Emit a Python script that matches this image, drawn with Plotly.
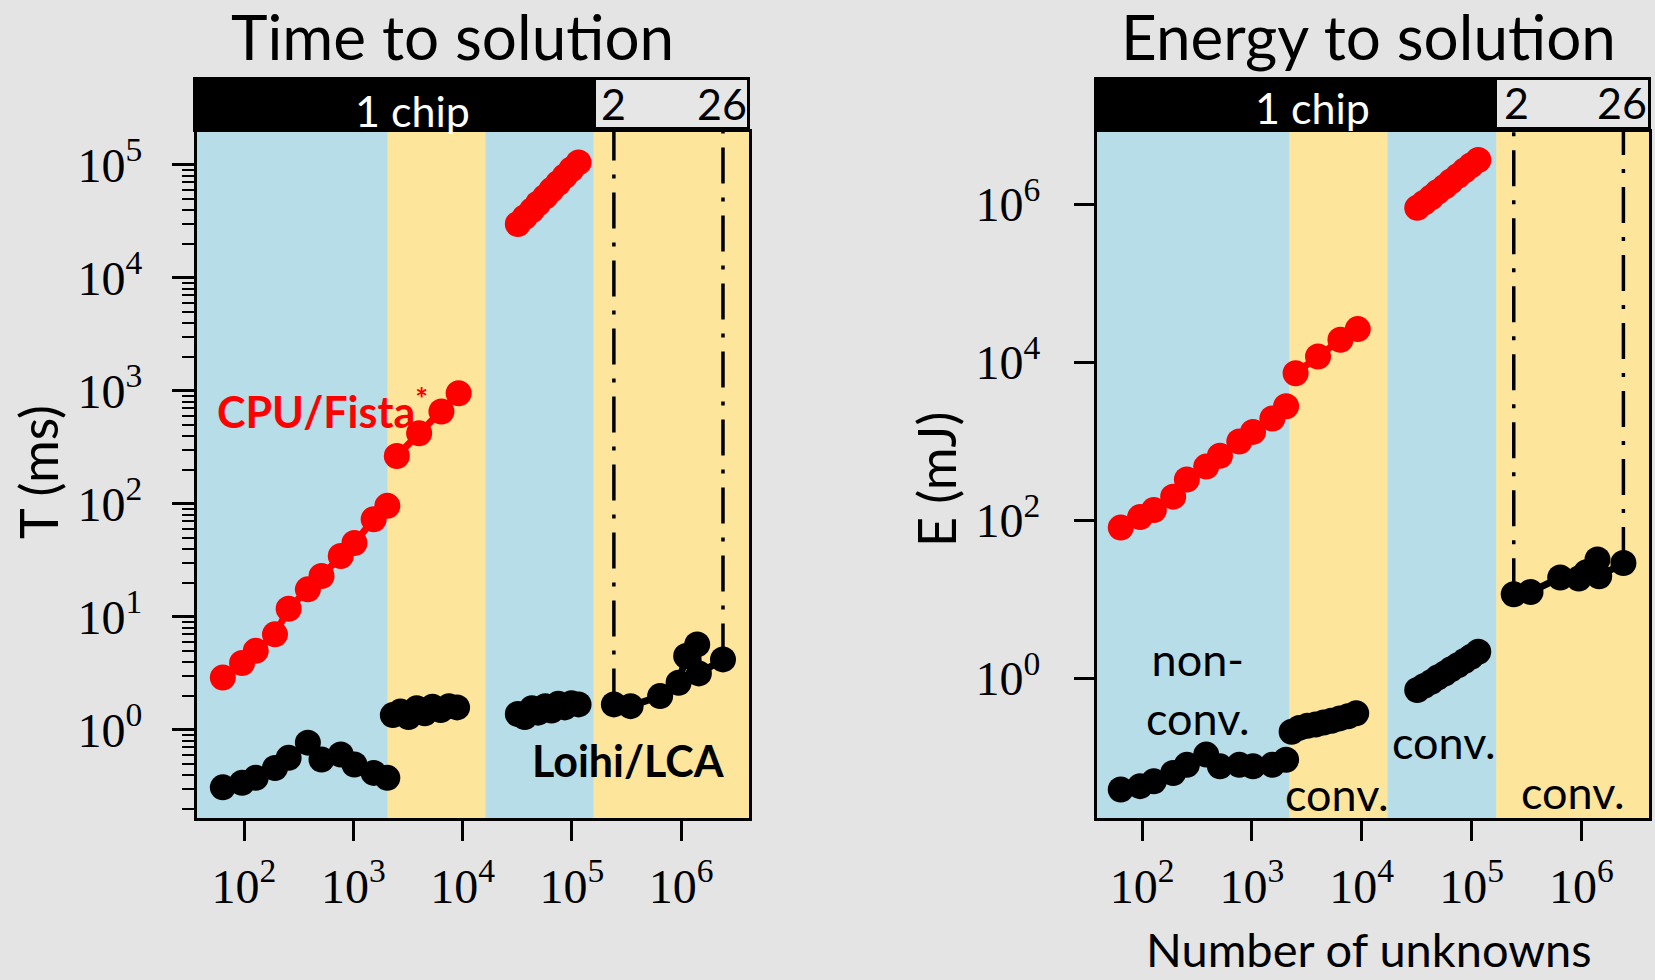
import math
import plotly.graph_objects as go

W, H = 1655, 980

# ---- data: number of unknowns per problem group ----
n_small = [64, 96, 128, 192, 256, 384, 512, 768, 1024, 1536, 2048]
n_conv_cpu = [2500, 4000, 6400, 9200]
n_conv_loihi = [2300, 2700, 3200, 3800, 4500, 5300, 6300, 7500, 8900]
n_large = [32000, 37000, 43000, 49000, 57000, 65000, 75000, 86000, 99000, 115000]
n_multi = [242000, 344000, 641000, 946000, 1110000, 1400000, 1450000, 2410000]

# time to solution (ms)
t_cpu_small = [2.9, 3.9, 5.0, 7.0, 11.8, 17.5, 23, 34.5, 45, 73, 96]
t_cpu_conv = [265, 421, 656, 951]
t_cpu_large = [29900, 34400, 39500, 45400, 52200, 60000, 69000, 79300, 91200, 105000]
t_loihi_small = [0.31, 0.34, 0.376, 0.46, 0.565, 0.77, 0.546, 0.605, 0.493, 0.416, 0.376]
t_loihi_conv = [1.35, 1.45, 1.30, 1.55, 1.40, 1.60, 1.50, 1.62, 1.58]
t_loihi_large = [1.38, 1.30, 1.55, 1.42, 1.62, 1.48, 1.70, 1.58, 1.72, 1.68]
t_loihi_multi = [1.68, 1.62, 1.99, 2.61, 4.5, 5.7, 3.16, 4.2]

# energy to solution (mJ)
e_cpu_small = [81, 110, 135, 200, 330, 480, 660, 1000, 1320, 1950, 2790]
e_cpu_conv = [7310, 11900, 19400, 26500]
e_cpu_large = [910000, 1060000, 1240000, 1450000, 1690000, 1980000, 2310000, 2700000, 3150000, 3670000]
e_loihi_small = [0.039, 0.043, 0.0495, 0.063, 0.080, 0.108, 0.0766, 0.080, 0.0766, 0.080, 0.093]
e_loihi_conv = [0.21, 0.235, 0.25, 0.26, 0.275, 0.29, 0.31, 0.33, 0.36]
e_loihi_large = [0.71, 0.80, 0.90, 1.02, 1.15, 1.30, 1.46, 1.65, 1.87, 2.17]
e_loihi_multi = [11.6, 12.4, 18.9, 18.3, 22, 31.9, 19.6, 28.9]

# background band edges (number of unknowns)
band_edges_t = [10**1.57, 2060, 16200, 158000, 10**6.62]
band_edges_e = [10**1.59, 2200, 17200, 168000, 10**6.615]
band_colors = ["#b7dde8", "#fde59b", "#b7dde8", "#fde59b"]

x_range_t = [1.57, 6.62]
y_range_t = [-0.78, 5.29]
x_range_e = [1.59, 6.615]
y_range_e = [-1.77, 6.92]

RED = "#ff0000"
BLACK = "#000000"
SANS = "Lato"
SERIF = "Liberation Serif"

fig = go.Figure()


def add_bands(edges, yr, xa, ya):
    ylo, yhi = 10 ** yr[0], 10 ** yr[1]
    for i, c in enumerate(band_colors):
        x0, x1 = edges[i], edges[i + 1]
        fig.add_trace(go.Scatter(
            x=[x0, x1, x1, x0, x0], y=[ylo, ylo, yhi, yhi, ylo],
            fill="toself", fillcolor=c, mode="lines", line=dict(width=0, color=c),
            hoverinfo="skip", showlegend=False, xaxis=xa, yaxis=ya))


def add_vline(xv, ybottom, yr, xa, ya):
    fig.add_trace(go.Scatter(
        x=[xv, xv], y=[ybottom, 10 ** yr[1]], mode="lines",
        line=dict(color=BLACK, width=3.5, dash="36px,14px,4px,14px"),
        hoverinfo="skip", showlegend=False, xaxis=xa, yaxis=ya))


def add_series(xs, ys, color, xa, ya):
    fig.add_trace(go.Scatter(
        x=xs, y=ys, mode="lines+markers",
        line=dict(color=color, width=7),
        marker=dict(color=color, size=26, line=dict(width=0)),
        showlegend=False, xaxis=xa, yaxis=ya))


# left panel: time
add_bands(band_edges_t, y_range_t, "x", "y")
add_vline(n_multi[0], t_loihi_multi[0], y_range_t, "x", "y")
add_vline(n_multi[-1], t_loihi_multi[-1], y_range_t, "x", "y")
for xs, ys in [(n_small, t_cpu_small), (n_conv_cpu, t_cpu_conv), (n_large, t_cpu_large)]:
    add_series(xs, ys, RED, "x", "y")
for xs, ys in [(n_small, t_loihi_small), (n_conv_loihi, t_loihi_conv),
               (n_large, t_loihi_large), (n_multi, t_loihi_multi)]:
    add_series(xs, ys, BLACK, "x", "y")

# right panel: energy
add_bands(band_edges_e, y_range_e, "x2", "y2")
add_vline(n_multi[0], e_loihi_multi[0], y_range_e, "x2", "y2")
add_vline(n_multi[-1], e_loihi_multi[-1], y_range_e, "x2", "y2")
for xs, ys in [(n_small, e_cpu_small), (n_conv_cpu, e_cpu_conv), (n_large, e_cpu_large)]:
    add_series(xs, ys, RED, "x2", "y2")
for xs, ys in [(n_small, e_loihi_small), (n_conv_loihi, e_loihi_conv),
               (n_large, e_loihi_large), (n_multi, e_loihi_multi)]:
    add_series(xs, ys, BLACK, "x2", "y2")


def px(x):
    return x / W


def py(y):
    return 1 - y / H


def pow_label(p):
    return "10<sup>%d</sup>" % p


x_decades = [2, 3, 4, 5, 6]
xtick_vals = [10 ** p for p in x_decades]
xtick_text = [pow_label(p) for p in x_decades]
t_decades = [0, 1, 2, 3, 4, 5]
e_decades = [0, 2, 4, 6]
t_minor = [k * 10 ** p for p in range(-1, 6) for k in range(2, 10)]

axis_common = dict(type="log", showgrid=False, zeroline=False, showline=True,
                   linecolor=BLACK, linewidth=3, mirror=True, ticks="outside",
                   tickcolor=BLACK, tickwidth=3,
                   tickfont=dict(family=SERIF, size=48, color=BLACK))

fig.update_layout(
    width=W, height=H, margin=dict(l=0, r=0, t=0, b=0),
    paper_bgcolor="#e4e4e4", plot_bgcolor="#e4e4e4",
    xaxis=dict(axis_common, domain=[px(197), px(749)], range=x_range_t,
               tickmode="array", tickvals=xtick_vals, ticktext=xtick_text,
               ticklen=20, ticklabelstandoff=4, anchor="y"),
    yaxis=dict(axis_common, domain=[py(818), py(132)], range=y_range_t,
               tickmode="array", tickvals=[10 ** p for p in t_decades],
               ticktext=[pow_label(p) for p in t_decades],
               ticklen=22, ticklabelstandoff=20, anchor="x",
               minor=dict(tickmode="array", tickvals=t_minor, ticks="outside",
                          ticklen=12, tickwidth=2, tickcolor=BLACK)),
    xaxis2=dict(axis_common, domain=[px(1097), px(1649)], range=x_range_e,
                tickmode="array", tickvals=xtick_vals, ticktext=xtick_text,
                ticklen=20, ticklabelstandoff=4, anchor="y2"),
    yaxis2=dict(axis_common, domain=[py(818), py(132)], range=y_range_e,
                tickmode="array", tickvals=[10 ** p for p in e_decades],
                ticktext=[pow_label(p) for p in e_decades],
                ticklen=20, ticklabelstandoff=24, anchor="x2"),
)

# header bars: "1 chip" region and multi-chip region
shapes = []
for bx0, bx1, wx0 in [(193, 750, 596), (1094, 1651, 1497)]:
    shapes.append(dict(type="rect", xref="paper", yref="paper",
                       x0=px(bx0), x1=px(bx1), y0=py(132), y1=py(77),
                       fillcolor=BLACK, line=dict(width=0), layer="above"))
    shapes.append(dict(type="rect", xref="paper", yref="paper",
                       x0=px(wx0), x1=px(bx1 - 3), y0=py(127), y1=py(80),
                       fillcolor="#e6e6e6", line=dict(width=0), layer="above"))
fig.update_layout(shapes=shapes)

ann = []


def text(x, y, s, size, color=BLACK, family=SANS, xanchor="center", yanchor="middle", angle=0):
    ann.append(dict(x=px(x), y=py(y), xref="paper", yref="paper", text=s, showarrow=False,
                    xanchor=xanchor, yanchor=yanchor, textangle=angle,
                    font=dict(family=family, size=size, color=color)))


text(452, 36, "Time to solution", 62)
text(1368, 36, "Energy to solution", 62)
text(38, 472, "T (ms)", 52, angle=-90)
text(936, 480, "E (mJ)", 52, angle=-90)
text(1369, 949, "Number of unknowns", 47)

text(412, 110, "1 chip", 43, color="#ffffff")
text(613, 104, "2", 43)
text(722, 104, "26", 43)
text(1312, 108, "1 chip", 43, color="#ffffff")
text(1516, 102, "2", 43)
text(1622, 102, "26", 43)

text(215, 408, "<b>CPU/Fista<sup>*</sup></b>", 43, color=RED, xanchor="left")
text(727, 760, "<b>Loihi/LCA</b>", 43, xanchor="right")

text(1198, 688, "non-<br>conv.", 45)
text(1337, 794, "conv.", 45)
text(1444, 742, "conv.", 45)
text(1573, 792, "conv.", 45)

fig.update_layout(annotations=ann)

fig.write_html("out.html")
